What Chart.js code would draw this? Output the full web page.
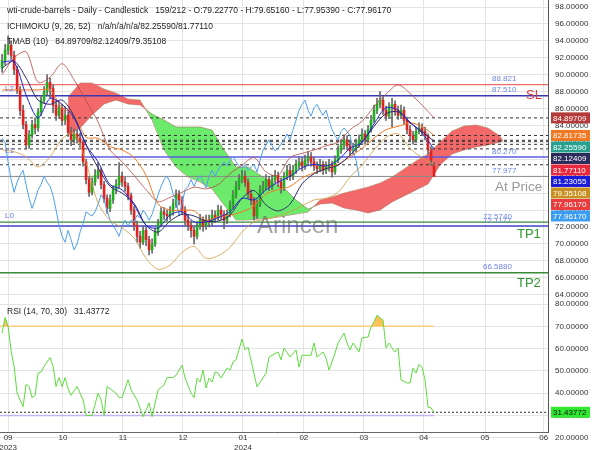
<!DOCTYPE html>
<html>
<head>
<meta charset="utf-8">
<script src="https://cdn.jsdelivr.net/npm/chart.js@4.4.1/dist/chart.umd.min.js"></script>
<style>
html, body { margin: 0; padding: 0; background: #fff; }
#wrap { position: relative; width: 600px; height: 450px; }
canvas { position: absolute; left: 0; }
#priceChart { top: 0; }
#rsiChart { top: 300px; }
</style>
</head>
<body>
<div id="wrap">
  <canvas id="priceChart" width="600" height="300"></canvas>
  <canvas id="rsiChart" width="600" height="150"></canvas>
</div>
<script>
// candles, one per trading day (bar index 0..144)
const candleOpen = [90.8, 91.7, 92.9, 93.5, 92.3, 90.6, 88.2, 85.8, 84.1, 81.7,
  82.9, 84.1, 83.7, 85.6, 87.0, 88.0, 89.1, 88.4, 86.4, 85.2,
  86.1, 84.6, 85.2, 83.2, 82.3, 83.0, 82.5, 82.0, 79.7, 77.6,
  76.1, 77.3, 78.1, 78.7, 77.0, 75.4, 74.2, 75.2, 76.4, 77.0,
  78.0, 77.3, 76.8, 75.7, 74.0, 72.2, 70.9, 70.2, 71.6, 70.5,
  69.3, 70.0, 71.4, 72.4, 73.8, 73.5, 73.3, 73.8, 74.7, 75.8,
  75.2, 74.0, 72.8, 72.2, 71.6, 70.9, 72.1, 72.8, 72.1, 72.8,
  72.6, 73.4, 73.1, 74.0, 73.5, 72.8, 73.5, 74.6, 75.8, 76.8,
  77.6, 78.0, 77.3, 75.9, 75.2, 73.3, 74.7, 76.4, 76.8, 77.6,
  76.8, 77.6, 78.1, 77.3, 76.6, 78.0, 78.7, 78.0, 78.7, 79.3,
  79.7, 79.2, 79.9, 80.3, 79.7, 79.2, 78.9, 79.4, 78.7, 79.1,
  79.4, 78.5, 79.9, 81.1, 81.7, 82.3, 81.6, 81.0, 81.3, 81.8,
  82.3, 83.0, 82.3, 83.5, 84.6, 85.8, 86.5, 87.0, 85.8, 85.1,
  86.1, 86.5, 85.8, 85.2, 85.8, 84.6, 83.5, 82.8, 82.3, 83.3,
  83.7, 83.3, 82.8, 81.1, 79.2277];
const candleHigh = [92.4, 93.6, 94.6, 94.0, 92.8, 91.0, 88.6, 86.4, 84.5, 83.4,
  84.6, 84.9, 86.0, 87.5, 88.6, 90.0, 89.6, 88.8, 87.0, 86.8,
  86.5, 86.2, 85.6, 83.8, 83.6, 83.5, 83.1, 82.3, 80.0, 78.0,
  77.8, 78.8, 79.6, 79.0, 77.4, 75.8, 75.8, 76.9, 77.6, 79.6,
  78.5, 77.9, 77.2, 76.0, 74.4, 72.7, 71.5, 72.1, 72.0, 70.9,
  70.6, 71.9, 72.9, 74.3, 74.3, 74.0, 74.4, 75.3, 76.4, 76.3,
  75.6, 74.4, 73.4, 72.7, 72.0, 72.6, 73.5, 73.2, 73.4, 73.4,
  74.0, 73.9, 74.6, 74.5, 73.9, 74.0, 75.1, 76.3, 77.4, 78.2,
  78.7, 78.6, 77.7, 76.4, 75.5, 75.2, 76.9, 77.4, 78.2, 78.0,
  78.1, 78.7, 78.5, 77.8, 78.5, 79.3, 79.2, 79.3, 79.9, 80.3,
  80.2, 80.5, 80.9, 80.8, 80.2, 79.7, 80.0, 79.8, 79.7, 80.0,
  79.8, 80.4, 81.6, 82.3, 82.9, 82.8, 82.1, 81.9, 82.4, 82.9,
  83.6, 83.4, 84.0, 85.2, 86.4, 87.2, 88.0, 87.4, 86.3, 86.7,
  87.2, 86.9, 86.3, 86.4, 86.2, 85.0, 84.0, 83.3, 83.8, 84.3,
  84.2, 83.8, 83.0, 81.5, 79.6516];
const candleLow = [90.3, 91.2, 92.4, 91.8, 90.0, 87.8, 85.2, 83.6, 81.2, 81.3,
  82.5, 83.0, 83.3, 85.2, 86.6, 87.6, 87.2, 85.5, 84.6, 84.8,
  84.0, 84.1, 82.7, 81.6, 81.9, 81.9, 81.4, 79.2, 77.1, 75.6,
  75.8, 76.9, 77.7, 76.5, 74.9, 73.6, 73.8, 74.8, 75.9, 76.6,
  76.8, 76.2, 75.2, 73.5, 71.6, 70.2, 69.5, 69.9, 69.8, 68.7,
  68.9, 69.7, 71.0, 72.0, 72.9, 72.7, 72.9, 73.4, 74.3, 74.6,
  73.5, 72.2, 71.6, 70.8, 70.0, 70.6, 71.7, 71.5, 71.7, 72.0,
  72.2, 72.5, 72.8, 72.9, 71.8, 72.4, 73.2, 74.2, 75.4, 76.4,
  77.2, 76.8, 75.4, 74.6, 72.8, 73.0, 74.4, 76.0, 76.4, 76.3,
  76.4, 77.2, 76.8, 76.0, 76.3, 77.6, 77.5, 77.6, 78.3, 78.9,
  78.6, 78.8, 79.5, 79.2, 78.7, 78.3, 78.5, 78.2, 78.3, 78.6,
  77.9, 78.2, 79.6, 80.7, 81.3, 81.1, 80.5, 80.6, 80.9, 81.4,
  81.9, 81.8, 82.0, 83.2, 84.3, 85.4, 86.1, 85.3, 84.6, 84.8,
  83.8, 85.2, 84.7, 84.8, 84.1, 83.0, 82.2, 81.8, 82.0, 83.0,
  82.8, 82.3, 80.6, 79.3, 77.9539];
const candleClose = [91.7, 92.9, 93.5, 92.3, 90.6, 88.2, 85.8, 84.1, 81.7, 82.9,
  84.1, 83.7, 85.6, 87.0, 88.0, 89.1, 88.4, 86.4, 85.2, 86.1,
  84.6, 85.2, 83.2, 82.3, 83.0, 82.5, 82.0, 79.7, 77.6, 76.1,
  77.3, 78.1, 78.7, 77.0, 75.4, 74.2, 75.2, 76.4, 77.0, 78.0,
  77.3, 76.8, 75.7, 74.0, 72.2, 70.9, 70.2, 71.6, 70.5, 69.3,
  70.0, 71.4, 72.4, 73.8, 73.5, 73.3, 73.8, 74.7, 75.8, 75.2,
  74.0, 72.8, 72.2, 71.6, 70.9, 72.1, 72.8, 72.1, 72.8, 72.6,
  73.4, 73.1, 74.0, 73.5, 72.8, 73.5, 74.6, 75.8, 76.8, 77.6,
  78.0, 77.3, 75.9, 75.2, 73.3, 74.7, 76.4, 76.8, 77.6, 76.8,
  77.6, 78.1, 77.3, 76.6, 78.0, 78.7, 78.0, 78.7, 79.3, 79.7,
  79.2, 79.9, 80.3, 79.7, 79.2, 78.9, 79.4, 78.7, 79.1, 79.4,
  78.5, 79.9, 81.1, 81.7, 82.3, 81.6, 81.0, 81.3, 81.8, 82.3,
  83.0, 82.3, 83.5, 84.6, 85.8, 86.5, 87.0, 85.8, 85.1, 86.1,
  86.5, 85.8, 85.2, 85.8, 84.6, 83.5, 82.8, 82.3, 83.3, 83.7,
  83.3, 82.8, 81.1, 79.9, 77.9617];

// indicator lines, read every 4th bar
const lineIdx = [0, 4, 8, 12, 16, 20, 24, 28, 32, 36, 40, 44, 48, 52, 56, 60, 64, 68, 72,
  76, 80, 84, 88, 92, 96, 100, 104, 108, 112, 116, 120, 124, 128, 132, 136, 140, 144];
const tmaUpper = [90.0, 92.0, 92.7, 89.1, 89.7, 91.3, 89.4, 86.9, 84.4, 81.1, 79.7, 78.1, 76.4,
  75.0, 75.5, 76.1, 76.7, 76.5, 77.0, 78.3, 79.3, 80.2, 78.5, 78.1, 80.2, 80.7, 81.1, 81.6,
  82.0, 83.5, 84.5, 86.2, 87.7, 88.8, 87.8, 86.4, 84.897];
const tmaMiddle = [90.8, 91.6, 89.6, 87.0, 86.5, 87.0, 85.1, 81.7, 79.0, 76.8, 76.0, 74.8, 72.2,
  71.4, 72.7, 73.5, 73.3, 72.7, 72.7, 73.4, 75.4, 76.3, 74.6, 73.9, 74.7, 77.1, 78.3, 78.9,
  79.3, 80.5, 82.0, 83.9, 85.4, 85.6, 84.3, 83.3, 82.124];
const tmaLower = [81.1, 80.9, 80.3, 79.1, 80.3, 82.4, 83.1, 79.6, 74.8, 72.8, 71.9, 70.7, 68.3,
  67.0, 67.5, 69.0, 69.7, 68.3, 68.6, 69.6, 71.4, 72.6, 72.9, 73.3, 73.8, 74.5, 75.2, 75.4,
  76.1, 77.9, 79.3, 81.1, 82.6, 83.0, 81.3, 80.2, 79.351];
const tenkan = [91.5, 91.5, 87.6, 84.9, 87.2, 86.5, 84.9, 81.7, 79.7, 77.0, 76.4, 74.6, 72.2,
  71.9, 73.4, 73.8, 72.6, 72.6, 73.1, 73.8, 75.4, 75.2, 76.4, 77.3, 78.0, 79.0, 79.4, 79.2,
  79.9, 81.3, 82.0, 84.2, 86.1, 85.8, 84.4, 83.1, 81.231];
const kijun = [88.2, 88.2, 88.2, 88.2, 88.2, 86.1, 85.3, 82.6, 82.5, 81.5, 81.1, 80.2, 78.1,
  74.7, 74.0, 74.0, 73.9, 72.8, 73.2, 73.4, 73.8, 74.5, 75.9, 76.4, 76.8, 77.8, 78.4, 78.9,
  79.4, 80.3, 81.3, 82.5, 83.5, 83.9, 84.3, 83.9, 82.817];
const chikouShift = 25;

// ichimoku cloud (senkou spans, shifted forward)
const cloudIdx = [22, 26, 30, 34, 38, 42, 46, 50, 54, 58, 62, 66, 70, 74, 78, 82, 86, 90, 94,
  98, 102, 106, 110, 114, 118, 122, 126, 130, 134, 138, 142, 146, 150, 154, 158, 162, 166, 167];
const senkouA = [82.87, 83.70, 85.23, 86.53, 87.01, 86.53, 86.42, 85.35, 84.64, 83.82, 83.82,
  83.82, 83.46, 81.10, 79.09, 79.09, 78.14, 77.20, 76.60, 75.19, 74.12, 74.71, 74.83, 74.24,
  74.00, 73.65, 74.00, 74.95, 75.66, 76.37, 77.08, 79.32, 80.62, 81.10, 81.45, 81.69, 82.04, 82.16];
const senkouB = [87.36, 89.02, 89.02, 88.31, 87.83, 87.13, 87.01, 84.64, 81.10, 79.09, 77.91,
  77.31, 76.49, 74.60, 72.82, 72.82, 72.94, 73.06, 73.30, 73.53, 73.77, 75.19, 75.54, 76.01,
  76.37, 76.72, 77.20, 77.91, 78.85, 79.80, 80.62, 82.04, 83.34, 83.93, 84.05, 83.70, 82.75, 82.16];

// RSI (14)
const rsiIdx = [0, 1, 2, 3, 4, 5, 7, 8, 9, 10, 11, 12, 13, 14, 16, 17, 18, 19, 20, 21, 22, 23,
  25, 26, 27, 28, 30, 32, 33, 34, 35, 38, 39, 40, 42, 43, 45, 47, 48, 49, 50, 52, 54, 55, 57,
  58, 60, 61, 63, 64, 65, 66, 67, 68, 69, 70, 71, 72, 73, 75, 76, 77, 78, 80, 81, 82, 85, 88,
  89, 90, 92, 93, 94, 96, 98, 99, 100, 102, 103, 104, 105, 107, 108, 109, 111, 112, 114, 115,
  116, 117, 119, 120, 122, 123, 124, 125, 126, 127, 128, 129, 130, 131, 132, 133, 135, 136,
  137, 138, 139, 140, 141, 142, 143, 144];
const rsiVal = [67, 74, 70, 59, 52, 40, 34, 44, 43, 38, 39, 49, 49.5, 52, 56, 52, 43, 47, 43,
  47, 42, 39, 43, 40, 37, 30, 30, 40, 37, 30, 43, 40, 38, 38, 46, 41.5, 37, 29.5, 32.5, 35.6,
  29.5, 41.5, 43.7, 47, 47, 48, 52.6, 46.8, 40, 38, 46.8, 45, 50.4, 42.3, 46.8, 45, 49.5, 49,
  46.8, 51.3, 50.4, 54, 55, 64.3, 59.4, 60.7, 42.8, 49, 56.2, 57, 58.5, 55, 60.3, 56.2, 59.4,
  51.7, 57, 57, 57, 62.5, 56.2, 58.5, 55.8, 50.4, 58, 62.5, 67, 62.5, 59.4, 62.5, 58.5, 64.8,
  65.2, 69.7, 72, 75, 73.7, 72.8, 60.3, 62.5, 60.3, 58.5, 60.3, 46, 44.6, 44.6, 51.3, 49, 53,
  51.7, 46, 33.8, 33.4, 31.43772];
const rsiLevels = [70, 30];

// levels and tags
const levelValues = [88.821, 87.510, 80.270, 77.977, 72.574, 72.1177, 66.588];
const levelNames = ['88.821', '87.510', '80.270', '77.977', '72.5740', '72.1177', '66.5880'];
const zoneNames = ['L2', 'L1', 'L0'];
const zoneValues = [87.510, 80.270, 72.574];
const targetNames = ['SL', 'At Price', 'TP1', 'TP2'];
const targetValues = [87.510, 77.977, 72.574, 66.588];
const indicatorValues = [84.89709, 82.81735, 82.25590, 82.12409, 81.77110, 81.23055, 79.35108, 77.96170, 77.96170];

const priceTicks = [64, 66, 68, 70, 72, 74, 76, 78, 80, 82, 84, 86, 88, 90, 92, 94, 96, 98];
const rsiTicks = [20, 30, 40, 50, 60, 70, 80];
const monthTicks = [2, 20.3, 40.3, 60.3, 80.3, 100.6, 120.6, 140.6, 161, 180.6];
const monthLabels = [['09', '2023'], '10', '11', '12', ['01', '2024'], '02', '03', '04', '05', '06'];

const headerLines = [
  'wti-crude-barrels - Daily - Candlestick   159/212 - O:79.22770 - H:79.65160 - L:77.95390 - C:77.96170',
  'ICHIMOKU (9, 26, 52)   n/a/n/a/n/a/82.25590/81.77110',
  'TMAB (10)   84.89709/82.12409/79.35108'
];
const rsiHeader = 'RSI (14, 70, 30)   31.43772';

const FONT = '"Liberation Sans", Arial, sans-serif';
Chart.defaults.font.family = FONT;
Chart.defaults.font.size = 8;
Chart.defaults.color = '#333';

const xMin = -0.7, xMax = 182;
const lastBar = candleClose.length - 1;
const tagColors = ['#b53a3a', '#f07820', '#28a090', '#2c2c5c', '#e8283c', '#1c1cd8', '#c89020', '#ea3c3c', '#3c9cf0'];

function pts(xs, ys) { return xs.map((x, i) => ({ x: x, y: ys[i] })); }
function hline(v, x1) { return [{ x: xMin, y: v }, { x: x1 === undefined ? xMax : x1, y: v }]; }
function lineDs(data, color, width, order, extra) {
  return Object.assign({ type: 'line', data: data, borderColor: color, borderWidth: width,
    pointRadius: 0, fill: false, tension: 0.3, order: order }, extra || {});
}

const bodies = candleOpen.map((o, i) => ({ x: i, y: [o, candleClose[i]] }));
const wicks = candleLow.map((l, i) => ({ x: i, y: [l, candleHigh[i]] }));
const bodyColors = candleOpen.map((o, i) => candleClose[i] >= o ? '#1fb01f' : '#e02222');
const chikou = candleClose.slice(chikouShift).map((c, i) => ({ x: i, y: c }));

const monthAxis = (showLabels) => ({
  type: 'linear', min: xMin, max: xMax, offset: false,
  afterBuildTicks(s) { s.ticks = monthTicks.map(v => ({ value: v })); },
  afterFit(s) { s.height = showLabels ? 18 : 0; s.paddingLeft = 0; s.paddingRight = 0; },
  grid: { color: '#e4e4e4', drawTicks: false, offset: false },
  border: { display: true, color: '#666' },
  ticks: { display: showLabels, autoSkip: false, maxRotation: 0, padding: 1, color: '#333',
    callback: (v, i) => monthLabels[i] }
});

const valueAxis = (lo, hi, tickList) => ({
  position: 'right', min: lo, max: hi,
  afterBuildTicks(s) { s.ticks = tickList.map(v => ({ value: v })); },
  afterFit(s) { s.width = 52; s.paddingTop = 0; s.paddingBottom = 0; },
  grid: { color: '#e4e4e4', drawTicks: false },
  border: { display: true, color: '#555' },
  ticks: { padding: 7, color: '#333', callback: v => v.toFixed(5) }
});

const priceOverlay = {
  id: 'priceOverlay',
  afterDatasetsDraw(chart) {
    const ctx = chart.ctx, ys = chart.scales.y;
    ctx.save();
    ctx.textBaseline = 'middle';
    ctx.textAlign = 'left';
    ctx.font = '8px ' + FONT;
    ctx.fillStyle = '#6d85e6';
    levelValues.forEach((v, i) => {
      const lx = levelNames[i].length > 6 ? 483 : 492;
      ctx.fillText(levelNames[i], lx, ys.getPixelForValue(v) - 5.5);
    });
    ctx.fillStyle = '#6677dd';
    zoneValues.forEach((v, i) => ctx.fillText(zoneNames[i], 5, ys.getPixelForValue(v) - 6.5));
    // targets
    ctx.font = '13px ' + FONT;
    ctx.fillStyle = '#dd3b3b';
    ctx.fillText(targetNames[0], 526, ys.getPixelForValue(targetValues[0]));
    ctx.font = '13.5px ' + FONT;
    ctx.fillStyle = '#999';
    ctx.fillText(targetNames[1], 495, ys.getPixelForValue(targetValues[1]) + 11);
    ctx.font = '13px ' + FONT;
    ctx.fillStyle = '#2e962e';
    ctx.fillText(targetNames[2], 517, ys.getPixelForValue(targetValues[2]) + 12);
    ctx.fillText(targetNames[3], 517, ys.getPixelForValue(targetValues[3]) + 11);
    // watermark
    ctx.textBaseline = 'alphabetic';
    ctx.font = '24px ' + FONT;
    ctx.fillStyle = 'rgba(90,90,90,0.55)';
    ctx.fillText('Arincen', 257, 233);
    ctx.restore();
  },
  afterDraw(chart) {
    const ctx = chart.ctx, ys = chart.scales.y;
    ctx.save();
    ctx.textBaseline = 'middle';
    ctx.textAlign = 'left';
    ctx.font = '8.5px ' + FONT;
    ctx.fillStyle = '#222';
    headerLines.forEach((t, i) => ctx.fillText(t, 7, 11 + i * 15.5));
    ctx.font = '8px ' + FONT;
    let last = -1e9;
    indicatorValues.forEach((v, i) => {
      const cy = Math.max(ys.getPixelForValue(v), last + 11.5);
      last = cy;
      ctx.fillStyle = tagColors[i];
      ctx.fillRect(551, cy - 5.5, 39, 11);
      ctx.fillStyle = '#fff';
      ctx.fillText(v.toFixed(5), 553, cy + 0.5);
    });
    ctx.restore();
  }
};

const datasets = [
  // cloud: A then B so the fill can target '+1'
  lineDs(pts(cloudIdx, senkouA), 'rgba(150,95,75,0.7)', 0.7, 20, {
    tension: 0, fill: { target: '+1', above: 'rgba(92,232,92,0.9)', below: 'rgba(242,92,92,0.92)' } }),
  lineDs(pts(cloudIdx, senkouB), 'rgba(150,95,75,0.7)', 0.7, 21, { tension: 0 }),
  // levels
  lineDs(hline(levelValues[0]), '#ee6b6b', 1.3, 15, { tension: 0 }),
  lineDs(hline(levelValues[1]), '#3838b0', 1.3, 15, { tension: 0 }),
  lineDs(hline(levelValues[2]), '#5a5ae0', 1.3, 15, { tension: 0 }),
  lineDs(hline(levelValues[3]), '#8a8a8a', 1, 15, { tension: 0 }),
  lineDs(hline(levelValues[4]), '#3a8a3a', 1.3, 15, { tension: 0 }),
  lineDs(hline(levelValues[5]), '#4646c8', 1.3, 15, { tension: 0 }),
  lineDs(hline(levelValues[6]), '#3a8a3a', 1.3, 15, { tension: 0 })
];
indicatorValues.slice(0, 7).forEach(v => {
  datasets.push(lineDs(hline(v), '#333', 1, 14, { tension: 0, borderDash: [3, 3] }));
});
datasets.push(
  { type: 'bar', data: wicks, backgroundColor: '#666', barThickness: 1, grouped: false, order: 12 },
  { type: 'bar', data: bodies, backgroundColor: bodyColors, barThickness: 2, grouped: false, order: 11 },
  lineDs(chikou, '#4c9ff0', 1, 6, { tension: 0 }),
  lineDs(pts(lineIdx, tmaUpper), '#b54a44', 0.8, 5),
  lineDs(pts(lineIdx, tmaLower), '#d09a40', 0.8, 5),
  lineDs(pts(lineIdx, kijun), '#f07a28', 1, 4),
  lineDs(pts(lineIdx, tmaMiddle), '#2c2c6c', 1, 3),
  lineDs(pts(lineIdx, tenkan), '#2424d0', 1, 2)
);

new Chart(document.getElementById('priceChart'), {
  type: 'bar',
  data: { datasets: datasets },
  options: {
    responsive: false, animation: false, devicePixelRatio: 1, events: [],
    layout: { padding: 0 },
    plugins: { legend: { display: false }, tooltip: { enabled: false } },
    scales: { x: monthAxis(false), y: valueAxis(63.37, 98.83, priceTicks) }
  },
  plugins: [priceOverlay]
});

const rsiOverlay = {
  id: 'rsiOverlay',
  afterDraw(chart) {
    const ctx = chart.ctx, ys = chart.scales.y;
    ctx.save();
    ctx.textBaseline = 'middle';
    ctx.textAlign = 'left';
    ctx.font = '8.5px ' + FONT;
    ctx.fillStyle = '#222';
    ctx.fillText(rsiHeader, 7, 12);
    const v = rsiVal[rsiVal.length - 1];
    const cy = ys.getPixelForValue(v);
    ctx.font = '8px ' + FONT;
    ctx.fillStyle = '#2fe82f';
    ctx.fillRect(551, cy - 5.5, 39, 11);
    ctx.fillStyle = '#111';
    ctx.fillText(v.toFixed(5), 553, cy + 0.5);
    ctx.restore();
  }
};

new Chart(document.getElementById('rsiChart'), {
  type: 'line',
  data: {
    datasets: [
      lineDs(pts(rsiIdx, rsiVal), '#5cdc3c', 1, 1, { tension: 0,
        fill: { target: { value: rsiLevels[0] }, above: 'rgba(255,190,80,0.95)', below: 'rgba(0,0,0,0)' } }),
      lineDs(hline(rsiLevels[0], lastBar), '#ffd08e', 1.5, 3, { tension: 0 }),
      lineDs(hline(rsiLevels[1], lastBar), '#c4b4f2', 1.5, 3, { tension: 0 }),
      lineDs(hline(rsiVal[rsiVal.length - 1]), '#333', 1, 2, { tension: 0, borderDash: [2, 2] })
    ]
  },
  options: {
    responsive: false, animation: false, devicePixelRatio: 1, events: [],
    layout: { padding: 0 },
    plugins: { legend: { display: false }, tooltip: { enabled: false } },
    scales: { x: monthAxis(true), y: valueAxis(22.6, 81.8, rsiTicks) }
  },
  plugins: [rsiOverlay]
});
</script>
</body>
</html>
